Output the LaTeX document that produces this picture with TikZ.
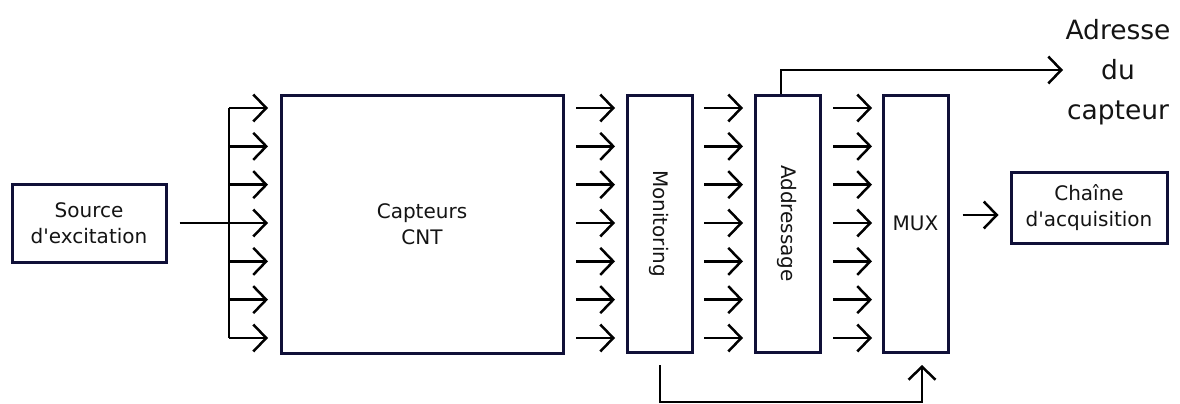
\documentclass[tikz,border=0pt]{standalone}
\usepackage{fontspec}
\setmainfont{DejaVu Sans}
\usetikzlibrary{arrows.meta}
\definecolor{boxline}{RGB}{16,16,56}
\definecolor{txt}{RGB}{20,20,20}
\tikzset{
  blk/.style={draw=boxline, line width=3pt, fill=white, inner sep=0pt, text=txt,
    align=center, font=\fontsize{20}{26}\selectfont},
  conn/.style={draw=black, line width=2.5pt},
  arr/.style={conn, -{Straight Barb[length=13pt,width=27pt,line width=2.5pt]}},
  lbl/.style={text=txt, inner sep=0pt, align=center}
}
\begin{document}
\begin{tikzpicture}[x=1pt,y=-1pt]
\useasboundingbox (0,0) rectangle (1180,404);
% blocks
\node[blk, minimum width=154pt, minimum height=78pt] (src) at (89,223) {Source\\d\textquotesingle excitation};
\node[blk, minimum width=282pt, minimum height=258pt] (cnt) at (422,224) {Capteurs\\CNT};
\node[blk, minimum width=65pt, minimum height=257pt] (mon) at (659.5,223.5) {};
\node[blk, minimum width=65pt, minimum height=257pt] (adr) at (787.5,223.5) {};
\node[blk, minimum width=65pt, minimum height=257pt] (mux) at (915.5,223.5) {MUX};
\node[blk, minimum width=156pt, minimum height=71pt] (chn) at (1089,207.5) {Chaîne\\d\textquotesingle acquisition};
\node[lbl, rotate=-90, font=\fontsize{20}{26}\selectfont] (monl) at (mon.center) {Monitoring};
\node[lbl, rotate=-90, font=\fontsize{20}{26}\selectfont] (adrl) at (adr.center) {Addressage};
\node[lbl, font=\fontsize{26.5}{40}\selectfont] (adt) at (1118,72) {Adresse\\du\\capteur};
% coordinates
\coordinate (bus) at (229,223);
\coordinate (bustop) at (229,108);
\coordinate (busbot) at (229,338);
% source to bus
\draw[conn] ([xshift=12pt]src.east) -- (bus);
\draw[conn] (bustop) -- (busbot);
\foreach \k in {0,...,6}{
  \pgfmathsetmacro{\yy}{108+38.333*\k}
  \draw[arr] (229,\yy) -- (268,\yy);
  \draw[arr] (576,\yy) -- (615,\yy);
  \draw[arr] (704,\yy) -- (743,\yy);
  \draw[arr] (833,\yy) -- (872,\yy);
}
% address output
\coordinate (ac) at (781,70);
\draw[arr] (adr.north -| ac) -- (ac) -- (1063,70);
% mux output
\draw[arr] ([xshift=13pt]mux.east |- 0,215) -- ([xshift=-11pt]chn.west |- 0,215);
% monitoring to mux
\coordinate (m1) at (660,402);
\coordinate (m2) at (922,402);
\draw[arr] (660,365) -- (m1) -- (m2) -- (922,365);
\end{tikzpicture}
\end{document}
